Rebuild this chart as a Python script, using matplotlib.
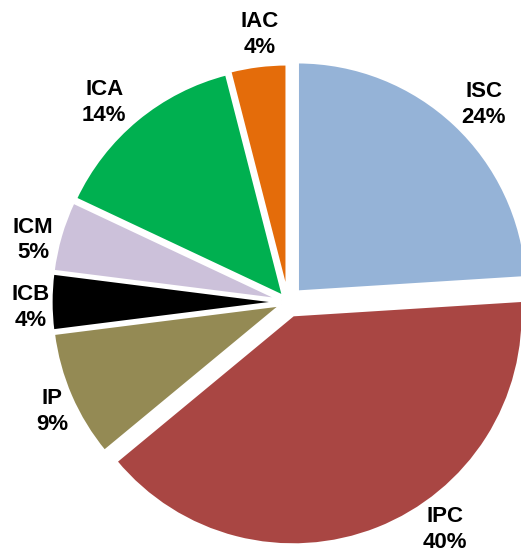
import numpy as np
import matplotlib.pyplot as plt

# Datos del gráfico
categorias = ['ISC', 'IPC', 'IP', 'ICB', 'ICM', 'ICA', 'IAC']
porcentajes = [24, 40, 9, 4, 5, 14, 4]
colores = ['#95B3D7', '#A94643', '#948A54', '#000000', '#CCC1DA', '#00B050', '#E46C0A']
separacion = [0.06, 0.06, 0.03, 0.03, 0.03, 0.03, 0.035]

# posicion de las etiquetas (distancia al centro y giro en grados)
dist_etiqueta = [1.21, 1.20, 1.13, 1.12, 1.14, 1.18, 1.17]
giro_etiqueta = [-1.5, 13.0, 1.6, 1.3, 2.5, 3.0, -1.2]

fig = plt.figure(figsize=(5.21, 5.59), dpi=100)
ax = fig.add_axes([0, 0, 1, 1])

wedges, _ = ax.pie(porcentajes, colors=colores, explode=separacion,
                   startangle=90, counterclock=False, radius=1.0,
                   wedgeprops=dict(edgecolor='white', linewidth=2.2))

for w, cat, p, d, g in zip(wedges, categorias, porcentajes, dist_etiqueta, giro_etiqueta):
    ang = np.deg2rad((w.theta1 + w.theta2) / 2 + g)
    ax.text(d * np.cos(ang), d * np.sin(ang), f'{cat}\n{p}%',
            ha='center', va='center', fontsize=16, fontweight='bold',
            family='Liberation Sans', linespacing=1.3, color='black')

# centro en (288, 302) px, radio 230 px
esc = 230.0
ax.set_xlim(-288 / esc, (521 - 288) / esc)
ax.set_ylim(-(559 - 302) / esc, 302 / esc)
ax.set_aspect('auto')
ax.axis('off')

fig.savefig('out.png', dpi=100)
